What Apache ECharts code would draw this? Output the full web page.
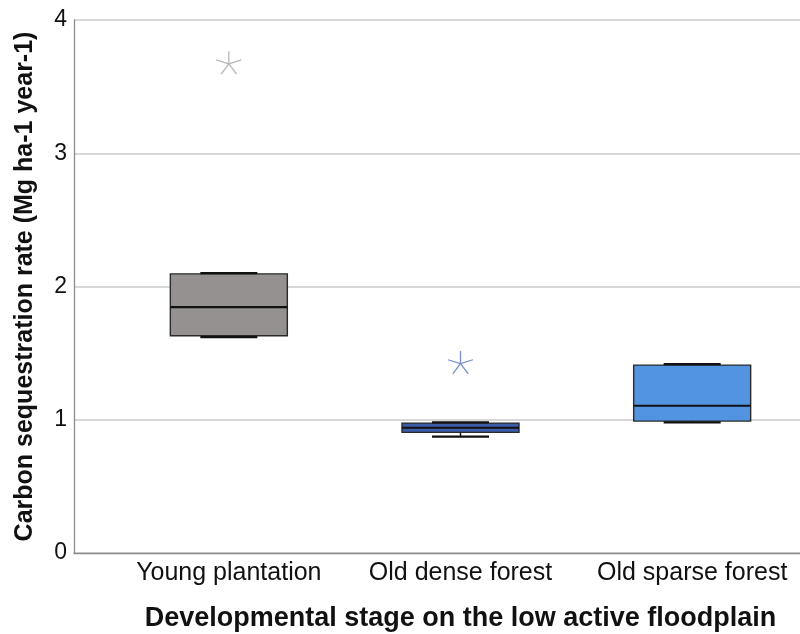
<!DOCTYPE html>
<html>
<head>
<meta charset="utf-8">
<script src="https://cdn.jsdelivr.net/npm/echarts@6/dist/echarts.min.js"></script>
<style>html,body{margin:0;padding:0;background:#fff}#c{width:800px;height:634px}</style>
</head>
<body>
<div id="c"></div>
<script>
const categories = ['Young plantation', 'Old dense forest', 'Old sparse forest'];
// [min, Q1, median, Q3, max]
const boxValues = [
  [1.62, 1.63, 1.845, 2.095, 2.10],
  [0.873, 0.905, 0.94, 0.975, 0.98],
  [0.98, 0.99, 1.105, 1.41, 1.418]
];
const outliers = [
  [0, 3.68],
  [1, 1.43]
];
const yTicks = [0, 1, 2, 3, 4];

const boxFill = ['#959191', '#3c5ca8', '#5394e1'];
const starColor = ['#a6a6a6', '#5b77c4'];
const font = '"Liberation Sans", Arial, sans-serif';

const starPath = 'path://M0,-10L0,0M9.51,-3.09L0,0M5.88,8.09L0,0M-5.88,8.09L0,0M-9.51,-3.09L0,0';

const BOX_HALF = 58.5;
const CAP_HALF = 28.5;

function renderBox(params, api) {
  const x = api.value(0);
  const vMin = api.value(1), q1 = api.value(2), med = api.value(3), q3 = api.value(4), vMax = api.value(5);
  const pMin = api.coord([x, vMin]);
  const pQ1 = api.coord([x, q1]);
  const pMed = api.coord([x, med]);
  const pQ3 = api.coord([x, q3]);
  const pMax = api.coord([x, vMax]);
  const cx = pMed[0];
  const dark = '#111';
  const children = [];
  if (Math.abs(pMax[1] - pQ3[1]) > 0.5) {
    children.push({type: 'line', shape: {x1: cx, y1: pQ3[1], x2: cx, y2: pMax[1]}, style: {stroke: dark, lineWidth: 1.5}});
  }
  if (Math.abs(pMin[1] - pQ1[1]) > 0.5) {
    children.push({type: 'line', shape: {x1: cx, y1: pQ1[1], x2: cx, y2: pMin[1]}, style: {stroke: dark, lineWidth: 1.5}});
  }
  children.push({
    type: 'rect',
    shape: {x: cx - BOX_HALF, y: pQ3[1], width: BOX_HALF * 2, height: pQ1[1] - pQ3[1]},
    style: {fill: boxFill[params.dataIndex], stroke: '#2a2a2a', lineWidth: 1.4}
  });
  children.push({type: 'line', shape: {x1: cx - BOX_HALF, y1: pMed[1], x2: cx + BOX_HALF, y2: pMed[1]}, style: {stroke: dark, lineWidth: 2.2}});
  children.push({type: 'line', shape: {x1: cx - CAP_HALF, y1: pMax[1], x2: cx + CAP_HALF, y2: pMax[1]}, style: {stroke: dark, lineWidth: 2.2}});
  children.push({type: 'line', shape: {x1: cx - CAP_HALF, y1: pMin[1], x2: cx + CAP_HALF, y2: pMin[1]}, style: {stroke: dark, lineWidth: 2.2}});
  return {type: 'group', children: children};
}

const chart = echarts.init(document.getElementById('c'), null, {renderer: 'canvas'});
chart.setOption({
  animation: false,
  backgroundColor: '#fff',
  grid: [
    {left: 74, right: 0, top: 20, bottom: 81, containLabel: false, outerBoundsMode: 'none'},
    {left: 113, right: -8, top: 20, bottom: 81, containLabel: false, outerBoundsMode: 'none'}
  ],
  xAxis: [
    {
      gridIndex: 0, type: 'value', min: 0, max: 1,
      axisLine: {show: true, lineStyle: {color: '#8c8c8c', width: 1.3}},
      axisTick: {show: false}, axisLabel: {show: false}, splitLine: {show: false}
    },
    {
      gridIndex: 1, type: 'category', data: categories,
      axisLine: {show: false}, axisTick: {show: false}, splitLine: {show: false},
      axisLabel: {fontFamily: font, fontSize: 25, color: '#111', margin: 8, interval: 0, hideOverlap: false},
      name: 'Developmental stage on the low active floodplain',
      nameLocation: 'middle', nameGap: 52,
      nameTextStyle: {fontFamily: font, fontWeight: 'bold', fontSize: 27, color: '#111'}
    }
  ],
  yAxis: [
    {
      gridIndex: 0, type: 'value', min: yTicks[0], max: yTicks[yTicks.length - 1], interval: 1,
      axisLine: {show: true, lineStyle: {color: '#8c8c8c', width: 1.3}},
      axisTick: {show: false},
      axisLabel: {fontFamily: font, fontSize: 23, color: '#111', margin: 7},
      splitLine: {show: true, lineStyle: {color: '#cbcbcb', width: 1.5}},
      name: 'Carbon sequestration rate (Mg ha-1 year-1)',
      nameLocation: 'middle', nameGap: 36, nameRotate: 90,
      nameTextStyle: {fontFamily: font, fontWeight: 'bold', fontSize: 25, color: '#111'}
    },
    {
      gridIndex: 1, type: 'value', min: 0, max: 4,
      show: false
    }
  ],
  series: [
    {
      type: 'custom',
      xAxisIndex: 1, yAxisIndex: 1,
      renderItem: renderBox,
      encode: {x: 0, y: [1, 2, 3, 4, 5]},
      data: boxValues.map((v, i) => [i].concat(v))
    },
    {
      type: 'scatter',
      xAxisIndex: 1, yAxisIndex: 1,
      symbol: starPath,
      symbolSize: [25, 23],
      data: outliers.map((p, i) => ({
        value: p,
        itemStyle: {color: 'rgba(0,0,0,0)', borderColor: starColor[i], borderWidth: 1.3}
      }))
    }
  ]
});
</script>
</body>
</html>
